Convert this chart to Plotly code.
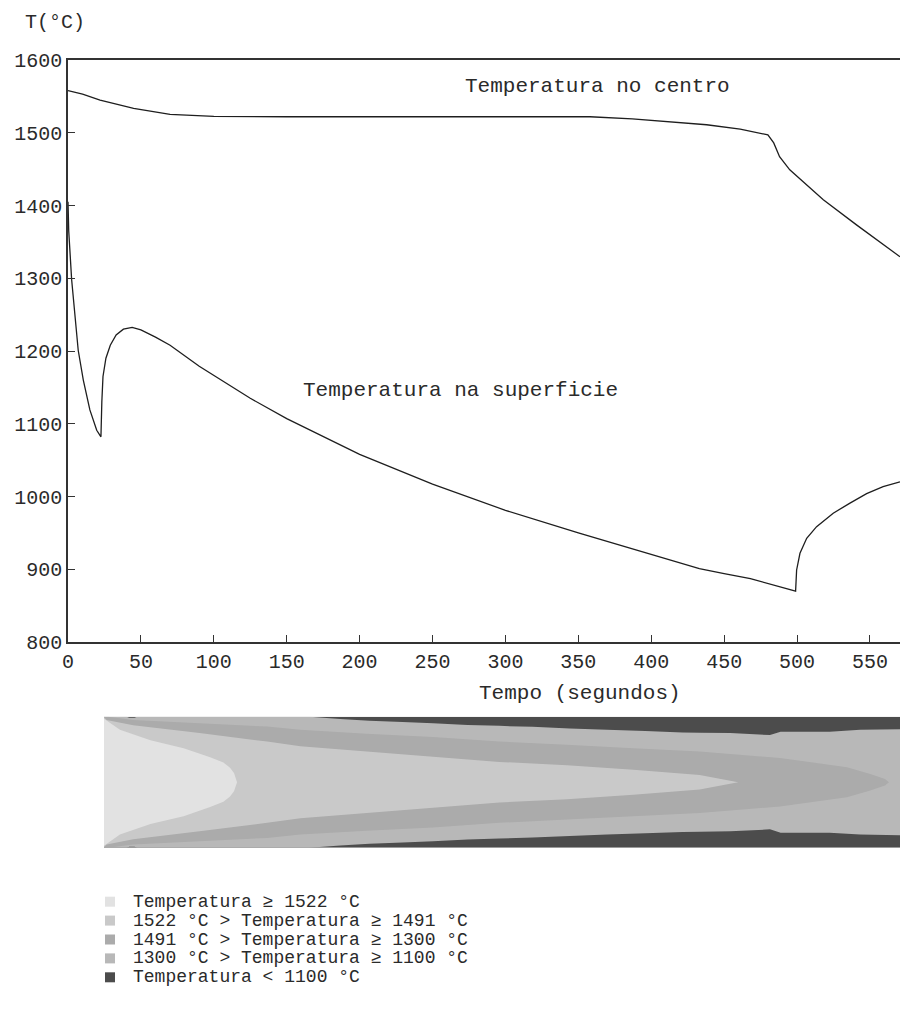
import plotly.graph_objects as go

# ---------------- data: main chart ----------------
t_center = [0, 10, 22, 45, 70, 100, 150, 250, 358, 387, 438, 461, 480, 484, 488, 495, 518, 541, 570.6]
T_center = [1558, 1553, 1545, 1533.5, 1525.3, 1522.5, 1522, 1522, 1522, 1519, 1511, 1505, 1497, 1486, 1467, 1449, 1408, 1373, 1329.6]

t_surface = [0, 0.5, 2.5, 5, 7, 10.5, 15, 19.7, 22.6, 23.2, 24, 26, 29, 33, 38, 44, 50, 60, 70, 90, 125,
             150, 200, 250, 300, 350, 400, 433, 450, 468, 499,
             499.7, 502, 506.6, 513.4, 524.8, 536, 547.7, 559, 570.6]
T_surface = [1405, 1365, 1298, 1240, 1201, 1160, 1119, 1091, 1082, 1130, 1165, 1190, 1208, 1222, 1230, 1232.5, 1229, 1219, 1208, 1179, 1135,
             1107, 1058, 1017, 981, 950, 921, 901, 894, 887, 870,
             899, 922, 942.5, 958.5, 977, 990.6, 1004, 1013.5, 1020]

x_ticks = [0, 50, 100, 150, 200, 250, 300, 350, 400, 450, 500, 550]
y_ticks = [800, 900, 1000, 1100, 1200, 1300, 1400, 1500, 1600]

# ---------------- data: strand band (isotherm depth from surface, fraction of half thickness) ----------------
band_t_end = 600
iso1100_t = [0, 17, 19, 23, 25, 155, 178, 200, 225, 248, 274, 298, 323, 351, 379, 408, 436, 449, 472, 502, 510, 547, 570, 600]
iso1100_d = [0, 0, 0.015, 0.015, 0, 0, 0.035, 0.06, 0.08, 0.10, 0.125, 0.14, 0.155, 0.18, 0.20, 0.22, 0.24, 0.245, 0.25, 0.28, 0.23, 0.23, 0.20, 0.19]

iso1300_t = [0, 3, 22, 72, 123, 148, 198, 248, 298, 349, 399, 449, 509.5, 560, 577, 588.7, 591.7]
iso1300_d = [0, 0, 0.05, 0.10, 0.15, 0.20, 0.26, 0.31, 0.38, 0.43, 0.48, 0.53, 0.63, 0.77, 0.87, 0.95, 1.0]

iso1491_t = [0, 2, 22, 72, 123, 148, 198, 248, 298, 349, 399, 449, 465, 478]
iso1491_d = [0.01, 0.05, 0.13, 0.25, 0.38, 0.45, 0.53, 0.61, 0.69, 0.74, 0.81, 0.89, 0.95, 1.0]

iso1522_t = [0, 12, 35, 60, 80, 90, 95, 98, 100.3]
iso1522_d = [0.03, 0.20, 0.36, 0.48, 0.62, 0.70, 0.78, 0.86, 1.0]

legend_labels = ["Temperatura \u2265 1522 \u00b0C",
                 "1522 \u00b0C > Temperatura \u2265 1491 \u00b0C",
                 "1491 \u00b0C > Temperatura \u2265 1300 \u00b0C",
                 "1300 \u00b0C > Temperatura \u2265 1100 \u00b0C",
                 "Temperatura < 1100 \u00b0C"]
legend_colors = ["#e2e2e2", "#c9c9c9", "#ababab", "#b8b8b8", "#4c4c4c"]

# ---------------- layout helpers ----------------
W, H = 900, 1023
def px(x):
    return x / W
def py(y):
    return 1 - y / H

FONT = "Liberation Mono, DejaVu Sans Mono, monospace"
TXT = "#2a2a2a"

fig = go.Figure()

fig.add_trace(go.Scatter(x=t_center, y=T_center, mode="lines",
                         line=dict(color="#1e1e1e", width=1.3), xaxis="x", yaxis="y",
                         showlegend=False, hoverinfo="skip"))
fig.add_trace(go.Scatter(x=t_surface, y=T_surface, mode="lines",
                         line=dict(color="#1e1e1e", width=1.3), xaxis="x", yaxis="y",
                         showlegend=False, hoverinfo="skip"))

# band: background (< 1100) then regions T >= threshold, painted from outside to inside
fig.add_trace(go.Scatter(x=[0, band_t_end, band_t_end, 0, 0], y=[1, 1, -1, -1, 1],
                         fill="toself", fillcolor=legend_colors[4], mode="none",
                         xaxis="x2", yaxis="y2", showlegend=False, hoverinfo="skip"))

def band(ts, ds, color):
    up = [1 - d for d in ds]
    lo = [-(1 - d) for d in ds]
    xs = list(ts) + list(reversed(ts))
    ys = up + list(reversed(lo))
    fig.add_trace(go.Scatter(x=xs, y=ys, fill="toself", fillcolor=color, mode="none",
                             xaxis="x2", yaxis="y2", showlegend=False, hoverinfo="skip"))

band(iso1100_t, iso1100_d, legend_colors[3])
band(iso1300_t, iso1300_d, legend_colors[2])
band(iso1491_t, iso1491_d, legend_colors[1])
band(iso1522_t, iso1522_d, legend_colors[0])

annotations = [
    dict(text="T(\u00b0C)", x=px(55), y=py(23), xref="paper", yref="paper",
         showarrow=False, xanchor="center", yanchor="middle", font=dict(size=20, color=TXT, family=FONT)),
    dict(text="Temperatura no centro", x=363, y=1563, xref="x", yref="y",
         showarrow=False, xanchor="center", yanchor="middle", font=dict(size=21, color=TXT, family=FONT)),
    dict(text="Temperatura na superficie", x=269, y=1146, xref="x", yref="y",
         showarrow=False, xanchor="center", yanchor="middle", font=dict(size=21, color=TXT, family=FONT)),
    dict(text="Tempo (segundos)", x=px(580), y=py(693), xref="paper", yref="paper",
         showarrow=False, xanchor="center", yanchor="middle", font=dict(size=21, color=TXT, family=FONT)),
]

shapes = []
row0, drow = 901.7, 18.9
for i, (lab, col) in enumerate(zip(legend_labels, legend_colors)):
    yc = row0 + i * drow
    shapes.append(dict(type="rect", xref="paper", yref="paper",
                       x0=px(105), x1=px(115), y0=py(yc + 5), y1=py(yc - 5),
                       fillcolor=col, line=dict(width=0)))
    annotations.append(dict(text=lab, x=px(131), y=py(yc), xref="paper", yref="paper",
                            showarrow=False, xanchor="left", yanchor="middle",
                            font=dict(size=18, color=TXT, family=FONT)))

fig.update_layout(
    template="none",
    width=W, height=H,
    margin=dict(l=0, r=0, t=0, b=0, pad=0),
    paper_bgcolor="white", plot_bgcolor="white",
    showlegend=False,
    xaxis=dict(domain=[px(68), 1], range=[0, 570.6], tickvals=x_ticks, ticks="inside", ticklen=7,
               tickcolor="#333", tickwidth=1.3, showline=True, linecolor="#333", linewidth=1.5, mirror=True,
               showgrid=False, zeroline=False, automargin=False,
               tickfont=dict(size=20, color=TXT, family=FONT), anchor="y"),
    yaxis=dict(domain=[py(642), py(60)], range=[800, 1600], tickvals=y_ticks, ticks="inside", ticklen=7,
               tickcolor="#333", tickwidth=1.3, showline=True, linecolor="#333", linewidth=1.5, mirror=False,
               showgrid=False, zeroline=False, automargin=False,
               tickfont=dict(size=20, color=TXT, family=FONT), anchor="x"),
    xaxis2=dict(domain=[px(104), 1], range=[0, band_t_end], visible=False, anchor="y2", automargin=False),
    yaxis2=dict(domain=[py(847.7), py(716.7)], range=[-1, 1], visible=False, anchor="x2", automargin=False),
    annotations=annotations,
    shapes=shapes,
)

fig.write_html(
    "out.html",
    config={"displayModeBar": False},
    post_script="document.body.style.margin='0';document.body.style.padding='0';"
                "document.documentElement.style.overflow='hidden';document.body.style.overflow='hidden';",
)
